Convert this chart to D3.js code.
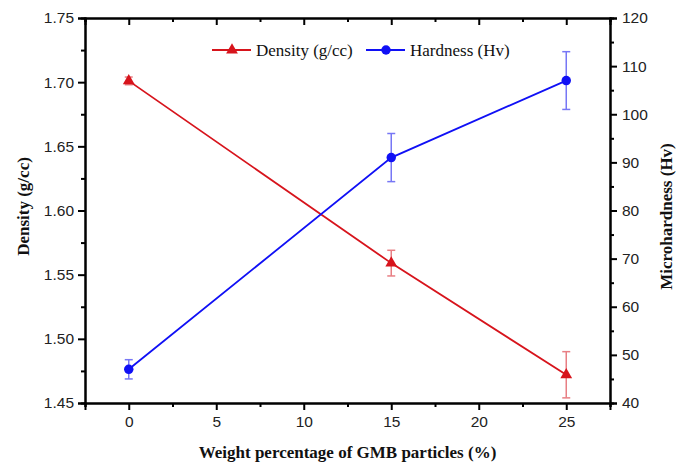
<!DOCTYPE html>
<html>
<head>
<meta charset="utf-8">
<script src="https://cdn.jsdelivr.net/npm/d3@7"></script>
<style>
  body { margin: 0; background: #fff; }
  svg { display: block; }
</style>
</head>
<body>
<div id="chart"></div>
<script>
// data
var weights = [0, 15, 25];
var density = [1.701, 1.559, 1.472];
var densityErr = [0.003, 0.010, 0.018];
var hardness = [47, 91, 107];
var hardnessErr = [2, 5, 6];
var xTicks = [0, 5, 10, 15, 20, 25];
var leftTicks = [1.45, 1.50, 1.55, 1.60, 1.65, 1.70, 1.75];
var rightTicks = [40, 50, 60, 70, 80, 90, 100, 110, 120];

var W = 686, H = 464;
var margin = {top: 18, right: 76, bottom: 61, left: 85},
    width = W - margin.left - margin.right,
    height = H - margin.top - margin.bottom;

var svg = d3.select("#chart")
  .append("svg")
    .attr("width", W)
    .attr("height", H)
  .append("g")
    .attr("transform", "translate(" + margin.left + "," + margin.top + ")");

var x = d3.scaleLinear().domain([-2.5, 27.5]).range([0, width]);
var yL = d3.scaleLinear().domain([1.45, 1.75]).range([height, 0]);
var yR = d3.scaleLinear().domain([40, 120]).range([height, 0]);

var tickFont = "'Liberation Sans', Arial, sans-serif";
var titleFont = "'Liberation Serif', 'Times New Roman', serif";

function styleAxis(g) {
  g.select(".domain").attr("stroke", "#000").attr("stroke-width", 2);
  g.selectAll(".tick line").attr("stroke", "#000").attr("stroke-width", 2);
  g.selectAll("text").attr("font-family", tickFont).attr("font-size", 15.5).attr("fill", "#222");
}

// minor ticks
var xMinor = d3.range(-2.5, 28, 2.5).filter(function(v) { return v % 5 !== 0; });
var leftMinor = d3.range(1.475, 1.75, 0.05);
var rightMinor = d3.range(45, 120, 10);

// bottom axis
svg.append("g")
  .attr("transform", "translate(0," + height + ")")
  .call(d3.axisBottom(x).tickValues(xTicks).tickSizeOuter(0).tickSize(7).tickPadding(6))
  .call(styleAxis);
svg.append("g")
  .attr("transform", "translate(0," + height + ")")
  .call(d3.axisBottom(x).tickValues(xMinor).tickSizeOuter(0).tickSize(4).tickFormat(""))
  .call(styleAxis);

// top axis, ticks pointing inward
svg.append("g")
  .call(d3.axisBottom(x).tickValues(xTicks).tickSizeOuter(0).tickSize(7).tickFormat(""))
  .call(styleAxis);
svg.append("g")
  .call(d3.axisBottom(x).tickValues(xMinor).tickSizeOuter(0).tickSize(4).tickFormat(""))
  .call(styleAxis);

// left axis
svg.append("g")
  .call(d3.axisLeft(yL).tickValues(leftTicks).tickFormat(d3.format(".2f")).tickSizeOuter(0).tickSize(7).tickPadding(4))
  .call(styleAxis);
svg.append("g")
  .call(d3.axisLeft(yL).tickValues(leftMinor).tickSizeOuter(0).tickSize(4).tickFormat(""))
  .call(styleAxis);

// right axis
svg.append("g")
  .attr("transform", "translate(" + width + ",0)")
  .call(d3.axisRight(yR).tickValues(rightTicks).tickSizeOuter(0).tickSize(7).tickPadding(5))
  .call(styleAxis);
svg.append("g")
  .attr("transform", "translate(" + width + ",0)")
  .call(d3.axisRight(yR).tickValues(rightMinor).tickSizeOuter(0).tickSize(4).tickFormat(""))
  .call(styleAxis);

var red = "#d7141c", blue = "#1010f5";
var redErr = "#e87f84", blueErr = "#7777f5";

function drawSeries(vals, errs, y, col, errCol, marker) {
  var pts = weights.map(function(w, i) { return {x: w, v: vals[i], e: errs[i]}; });

  var eb = svg.append("g");
  pts.forEach(function(d) {
    var cx = x(d.x), y1 = y(d.v + d.e), y2 = y(d.v - d.e);
    eb.append("line").attr("x1", cx).attr("x2", cx).attr("y1", y1).attr("y2", y2)
      .attr("stroke", errCol).attr("stroke-width", 1.5);
    [y1, y2].forEach(function(yy) {
      eb.append("line").attr("x1", cx - 4).attr("x2", cx + 4).attr("y1", yy).attr("y2", yy)
        .attr("stroke", errCol).attr("stroke-width", 1.5);
    });
  });

  svg.append("path")
    .datum(pts)
    .attr("fill", "none")
    .attr("stroke", col)
    .attr("stroke-width", 1.8)
    .attr("d", d3.line().x(function(d) { return x(d.x); }).y(function(d) { return y(d.v); }));

  svg.selectAll(null)
    .data(pts)
    .enter()
    .append("path")
      .attr("transform", function(d) { return "translate(" + x(d.x) + "," + y(d.v) + ")"; })
      .attr("d", d3.symbol().type(marker).size(marker === d3.symbolCircle ? 70 : 60))
      .attr("fill", col);
}

drawSeries(density, densityErr, yL, red, redErr, d3.symbolTriangle);
drawSeries(hardness, hardnessErr, yR, blue, blueErr, d3.symbolCircle);

// legend
var legend = svg.append("g");
var legendItems = [
  {label: "Density (g/cc)", col: red, marker: d3.symbolTriangle, x0: 127},
  {label: "Hardness (Hv)", col: blue, marker: d3.symbolCircle, x0: 281}
];
legendItems.forEach(function(it) {
  var ly = 32;
  legend.append("line").attr("x1", it.x0).attr("x2", it.x0 + 39).attr("y1", ly).attr("y2", ly)
    .attr("stroke", it.col).attr("stroke-width", 1.8);
  legend.append("path")
    .attr("transform", "translate(" + (it.x0 + 20) + "," + ly + ")")
    .attr("d", d3.symbol().type(it.marker).size(it.marker === d3.symbolCircle ? 70 : 60))
    .attr("fill", it.col);
  legend.append("text")
    .attr("x", it.x0 + 44).attr("y", ly + 6)
    .attr("font-family", titleFont).attr("font-size", 17).attr("fill", "#111")
    .text(it.label);
});

// axis titles
svg.append("text")
  .attr("x", width / 2).attr("y", height + 55)
  .attr("text-anchor", "middle")
  .attr("font-family", titleFont).attr("font-weight", "bold").attr("font-size", 17).attr("fill", "#111")
  .text("Weight percentage of GMB particles (%)");

svg.append("text")
  .attr("transform", "translate(" + (-56) + "," + (height / 2 - 4) + ")rotate(-90)")
  .attr("text-anchor", "middle")
  .attr("font-family", titleFont).attr("font-weight", "bold").attr("font-size", 17).attr("fill", "#111")
  .text("Density (g/cc)");

svg.append("text")
  .attr("transform", "translate(" + (width + 62) + "," + (height / 2 + 6) + ")rotate(-90)")
  .attr("text-anchor", "middle")
  .attr("font-family", titleFont).attr("font-weight", "bold").attr("font-size", 17).attr("fill", "#111")
  .text("Microhardness (Hv)");
</script>
</body>
</html>
